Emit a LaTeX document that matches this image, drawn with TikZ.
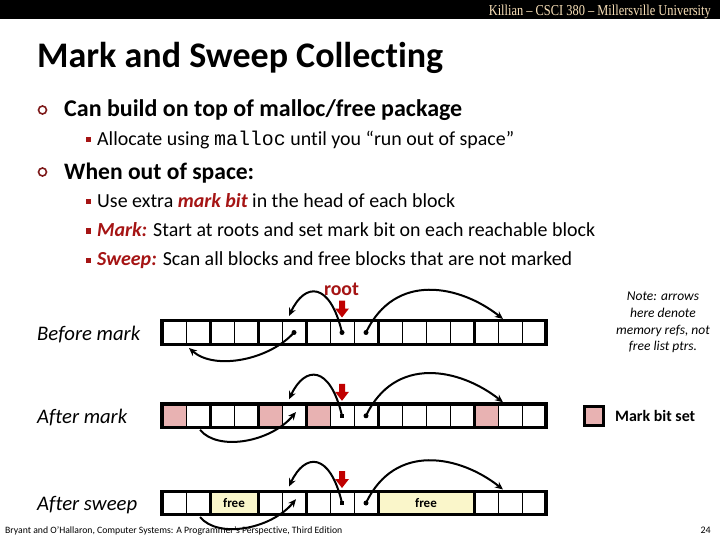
\documentclass[tikz,border=0pt]{standalone}
\usepackage{fontspec}
\usepackage{graphicx}
\setmainfont{Carlito}[Ligatures={NoCommon}]
\newfontfamily\hdrfont{Liberation Serif}
\newfontfamily\codefont{Liberation Mono}
\usetikzlibrary{arrows.meta}
\definecolor{pinkcell}{RGB}{232,178,178}
\definecolor{freecell}{RGB}{250,246,202}
\definecolor{darkred}{RGB}{165,20,20}
\definecolor{rootred}{RGB}{192,0,0}
\definecolor{hdrcol}{RGB}{250,225,185}
\definecolor{bulletcol}{RGB}{125,25,25}
\newcommand{\fitw}[2]{\resizebox{#1}{!}{#2}}
\newcommand{\hl}[1]{\textcolor{darkred}{\bfseries\itshape #1}}
\tikzset{
  cell/.style={draw=black, line width=0.9pt, minimum width=24pt, minimum height=23.5pt, inner sep=0pt, outer sep=0pt},
  cellslot/.style={minimum width=24pt, minimum height=23.5pt, inner sep=0pt, outer sep=0pt},
  freeblk/.style={draw=black, fill=freecell, line width=0.9pt, minimum height=23.5pt, inner sep=0pt, outer sep=0pt, font=\bfseries\fontsize{13}{15}\selectfont},
  strip/.style={line width=3.2pt, line cap=rect},
  blockline/.style={line width=3pt},
  ptr/.style={line width=2pt, -{Stealth[length=8pt,width=7pt]}},
  dot/.style={circle, fill=black, inner sep=0pt, minimum size=5pt},
  sqdot/.style={rectangle, fill=black, inner sep=0pt, minimum size=4.5pt},
  txt/.style={anchor=base west, inner sep=0pt},
  rowlab/.style={anchor=base west, inner sep=0pt, font=\itshape\fontsize{19}{22}\selectfont},
  subbul/.style={fill=darkred},
}
\begin{document}
\begin{tikzpicture}[x=1pt,y=-1pt]
\useasboundingbox (0,0) rectangle (720,540);
\fill[white] (0,0) rectangle (720,540);
% header bar
\fill[black] (0,0) rectangle (720,19);
\node[anchor=base east, inner sep=0pt, text=hdrcol] (hdr) at (711,15.5) {\resizebox{222pt}{10.5pt}{\hdrfont Killian – CSCI 380 – Millersville University}};
% title
\node[txt] (title) at (37,68) {\fitw{406pt}{\bfseries Mark and Sweep Collecting}};
% bullets
\draw[bulletcol, line width=1.6pt] (42.5,110) circle (4);
\node[txt] (b1) at (64,117) {\fitw{398pt}{\bfseries Can build on top of malloc/free package}};
\fill[subbul] (85.5,137.5) rectangle (90.5,142.5);
\node[txt] (s1) at (97,145.5) {\fitw{417pt}{Allocate using {\codefont malloc} until you “run out of space”}};
\draw[bulletcol, line width=1.6pt] (42.5,172) circle (4);
\node[txt] (b2) at (64,179) {\fitw{190pt}{\bfseries When out of space:}};
\fill[subbul] (85.5,199.5) rectangle (90.5,204.5);
\node[txt] (s2) at (97,207.5) {\fitw{358pt}{Use extra \hl{mark bit} in the head of each block}};
\fill[subbul] (85.5,228.5) rectangle (90.5,233.5);
\node[txt] (s3) at (97,236.5) {\fitw{498pt}{\hl{Mark:} Start at roots and set mark bit on each reachable block}};
\fill[subbul] (85.5,257.5) rectangle (90.5,262.5);
\node[txt] (s4) at (97,265.5) {\fitw{475pt}{\hl{Sweep:} Scan all blocks and free blocks that are not marked}};
% row labels
\node[rowlab] (lab1) at (37,340) {\fitw{103pt}{Before mark}};
\node[rowlab] (lab2) at (37,423) {\fitw{90pt}{After mark}};
\node[rowlab] (lab3) at (37,510) {\fitw{100pt}{After sweep}};
% row 1 cells
\foreach \i in {0,...,15} {
  \node[cell] (r1c\i) at ({162+24*(\i+0.5)},332.5) {};
}
% row 2 cells
\foreach \i/\f in {0/pinkcell,1/white,2/white,3/white,4/pinkcell,5/white,6/pinkcell,7/white,8/white,9/white,10/white,11/white,12/white,13/pinkcell,14/white,15/white} {
  \node[cell, fill=\f] (r2c\i) at ({162+24*(\i+0.5)},415.8) {};
}
% row 3 cells
\foreach \i in {0,1,4,5,6,7,8,13,14,15} {
  \node[cell] (r3c\i) at ({162+24*(\i+0.5)},503) {};
}
\foreach \i in {2,3,9,10,11,12} {
  \node[cellslot] (r3c\i) at ({162+24*(\i+0.5)},503) {};
}
\node[freeblk, minimum width=48pt] (free1) at (234,503) {free};
\node[freeblk, minimum width=96pt] (free2) at (426,503) {free};
% block borders
\foreach \r in {1,2,3} {
  \draw[strip] (r\r c0.north west) rectangle (r\r c15.south east);
  \foreach \b in {2,4,6,9,13} {
    \draw[blockline] (r\r c\b.north west) -- (r\r c\b.south west);
  }
}
% root label
\node[anchor=base, inner sep=0pt, text=darkred] (rootlab) at (341.5,295) {\fitw{35pt}{\bfseries root}};
% root arrows (red)
\foreach \r/\yy in {1/332.5,2/415.8,3/503} {
  \fill[rootred] (339,\yy-32) -- ++(6,0) -- ++(0,8) -- ++(4,0) -- ++(-7,9) -- ++(-7,-9) -- ++(4,0) -- cycle;
}
% row 1 pointers
\coordinate (r1lo) at (189,348);
\coordinate (r1up) at (289,316);
\coordinate (r1rt) at (503,319);
\node[dot] (d1a) at (r1c5) {};
\node[dot] (d1b) at (r1c7) {};
\node[dot] (d1c) at (r1c8) {};
\draw[ptr] (d1a.center) .. controls +(-24,27) and +(26,23) .. (r1lo);
\draw[ptr] (d1b.center) .. controls +(-12,-51) and +(16,-34) .. (r1up);
\draw[ptr] (d1c.center) .. controls +(29,-61) and +(-43,-34) .. (r1rt);
% row 2 pointers
\coordinate (r2lo) at (200,429.8);
\coordinate (r2in) at (296,412);
\coordinate (r2up) at (289,399.3);
\coordinate (r2rt) at (503,402.3);
\node[sqdot] (d2b) at (r2c7) {};
\node[dot] (d2c) at (r2c8) {};
\draw[ptr] (r2lo) .. controls +(18,22) and +(-25,30) .. (r2in);
\draw[ptr] (d2b.center) .. controls +(-12,-51) and +(16,-34) .. (r2up);
\draw[ptr] (d2c.center) .. controls +(29,-61) and +(-43,-34) .. (r2rt);
% row 3 pointers
\coordinate (r3lo) at (200,517);
\coordinate (r3in) at (296,499.2);
\coordinate (r3up) at (289,486.5);
\coordinate (r3rt) at (503,489.5);
\node[sqdot] (d3b) at (r3c7) {};
\node[dot] (d3c) at (r3c8) {};
\draw[ptr] (r3lo) .. controls +(18,22) and +(-25,30) .. (r3in);
\draw[ptr] (d3b.center) .. controls +(-12,-51) and +(16,-34) .. (r3up);
\draw[ptr] (d3c.center) .. controls +(29,-61) and +(-43,-34) .. (r3rt);
% note
\node[align=center, inner sep=0pt, font=\itshape\fontsize{13.5}{16.7}\selectfont] (note) at (663,322.5) {Note: arrows\\here denote\\memory refs, not\\free list ptrs.};
% legend
\node[draw=black, fill=pinkcell, line width=3pt, minimum width=19pt, minimum height=19pt, inner sep=0pt] (legbox) at (594,416) {};
\node[txt] (legtxt) at (615,421) {\fitw{80pt}{\bfseries Mark bit set}};
% footer
\node[txt] (foot) at (5,533) {\fitw{337pt}{Bryant and O’Hallaron, Computer Systems: A Programmer’s Perspective, Third Edition}};
\node[anchor=base east, inner sep=0pt, font=\fontsize{10}{12}\selectfont] (pnum) at (711,533) {24};
\end{tikzpicture}
\end{document}
